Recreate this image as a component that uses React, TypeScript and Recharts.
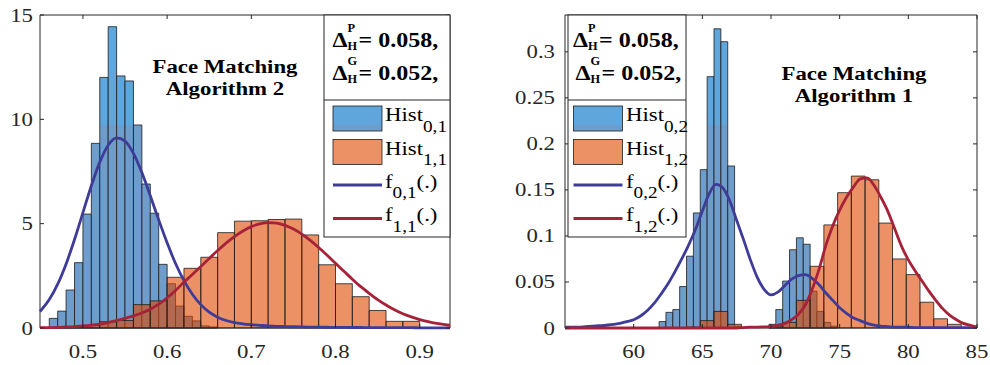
import { ComposedChart, Line, XAxis, YAxis, ReferenceArea } from 'recharts';

const FONT = '"Liberation Serif", "Times New Roman", Times, serif';
const INK = '#262626';
const BLUE_TOP = '#5ea6dc';
const BLUE_LOW = '#6e9ccb';
const ORANGE = '#df4800';
const ORANGE_ALPHA = 0.6;
const LINE0 = '#3f3c99';
const LINE1 = '#a52238';
const EDGE = '#1c1c1c';
// glyphs are drawn a bit wider than tall
const STRETCH = 1.2;

// ---- panel 1: Face Matching Algorithm 2 ----
const leftXTicks = [0.5, 0.6, 0.7, 0.8, 0.9];
const leftYTicks = [0, 5, 10, 15];

const hist01Edges = [0.46, 0.47, 0.48, 0.49, 0.5, 0.51, 0.52, 0.53, 0.54, 0.55, 0.56, 0.57, 0.58, 0.59, 0.6, 0.61, 0.62, 0.63, 0.64, 0.65, 0.66];
const hist01Values = [0.46, 0.81, 1.82, 3.13, 5.46, 8.85, 12.01, 14.44, 12.08, 11.84, 9.73, 6.9, 5.5, 3.05, 2.12, 1.05, 0.56, 0.34, 0.1, 0.05];

const hist11Edges = [0.46, 0.48, 0.5, 0.52, 0.54, 0.56, 0.58, 0.6, 0.62, 0.64, 0.66, 0.68, 0.7, 0.72, 0.74, 0.76, 0.78, 0.8, 0.82, 0.84, 0.86, 0.88, 0.9];
const hist11Values = [0.03, 0.05, 0.12, 0.3, 0.36, 1.12, 1.3, 2.43, 2.86, 3.39, 4.57, 5.12, 5.14, 5.2, 5.22, 4.46, 3.03, 2.12, 1.5, 0.84, 0.32, 0.32];

const leftCurveX = [
  0.449, 0.46, 0.47, 0.48, 0.49, 0.5, 0.51, 0.52, 0.53, 0.54,
  0.55, 0.56, 0.57, 0.58, 0.59, 0.6, 0.61, 0.62, 0.63, 0.64,
  0.65, 0.66, 0.67, 0.68, 0.69, 0.7, 0.71, 0.72, 0.73, 0.74,
  0.75, 0.76, 0.77, 0.78, 0.79, 0.8, 0.81, 0.82, 0.83, 0.84,
  0.85, 0.86, 0.87, 0.88, 0.89, 0.9, 0.91, 0.92, 0.93, 0.936,
];
const f01 = [
  0.79, 1.36, 2.1, 3.07, 4.24, 5.53, 6.82, 7.95, 8.76, 9.11,
  8.96, 8.37, 7.45, 6.34, 5.18, 4.08, 3.09, 2.27, 1.62, 1.12,
  0.76, 0.52, 0.36, 0.26, 0.2, 0.16, 0.13, 0.1, 0.08, 0.07,
  0.06, 0.05, 0.045, 0.04, 0.035, 0.03, 0.03, 0.025, 0.025, 0.02,
  0.02, 0.02, 0.015, 0.015, 0.015, 0.01, 0.01, 0.01, 0.01, 0.01,
];
const f11 = [
  0.013, 0.02, 0.03, 0.05, 0.07, 0.1, 0.14, 0.19, 0.26, 0.36,
  0.46, 0.58, 0.72, 0.9, 1.14, 1.45, 1.8, 2.2, 2.56, 2.95,
  3.33, 3.71, 4.07, 4.38, 4.65, 4.86, 4.99, 5.05, 5.03, 4.92,
  4.74, 4.5, 4.2, 3.86, 3.49, 3.1, 2.72, 2.34, 1.98, 1.66,
  1.36, 1.1, 0.87, 0.68, 0.53, 0.4, 0.3, 0.22, 0.16, 0.13,
];

// ---- panel 2: Face Matching Algorithm 1 ----
const rightXTicks = [60, 65, 70, 75, 80, 85];
const rightYTicks = [0, 0.05, 0.1, 0.15, 0.2, 0.25, 0.3];

const hist02Edges = [
  61.85, 62.35, 62.85, 63.35, 63.85, 64.35, 64.85, 65.35, 65.85, 66.35, 66.85, 67.35, 67.85,
  68.35, 68.85, 69.35, 69.85, 70.35, 70.85, 71.35, 71.85, 72.35, 72.85, 73.35, 73.85, 74.35, 74.85,
];
const hist02Values = [
  0.007, 0.017, 0.02, 0.045, 0.078, 0.125, 0.172, 0.273, 0.325, 0.311, 0.176, 0.002, 0,
  0, 0, 0, 0.004, 0.02, 0.051, 0.085, 0.098, 0.091, 0.04, 0.018, 0.006, 0.002,
];

const hist12Edges = [63.85, 64.85, 65.85, 66.85, 67.85, 68.85, 69.85, 70.85, 71.85, 72.85, 73.85, 74.85, 75.85, 76.85, 77.85, 78.85, 79.85, 80.85, 81.85, 82.85, 83.85];
const hist12Values = [0.001, 0.008, 0.018, 0.004, 0, 0, 0.002, 0.006, 0.03, 0.067, 0.112, 0.147, 0.165, 0.161, 0.114, 0.075, 0.058, 0.028, 0.01, 0.004];

const rightCurveX = [
  55, 55.5, 56, 56.5, 57, 57.5, 58, 58.5, 59, 59.5,
  60, 60.5, 61, 61.5, 62, 62.5, 63, 63.5, 64, 64.5,
  65, 65.5, 66, 66.5, 67, 67.5, 68, 68.5, 69, 69.5,
  70, 70.5, 71, 71.5, 72, 72.5, 73, 73.5, 74, 74.5,
  75, 75.5, 76, 76.5, 77, 77.5, 78, 78.5, 79, 79.5,
  80, 80.5, 81, 81.5, 82, 82.5, 83, 83.5, 84, 84.5, 85,
];
const f02 = [
  0.001, 0.001, 0.001, 0.0015, 0.002, 0.0025, 0.003, 0.004, 0.005, 0.007,
  0.009, 0.013, 0.019, 0.027, 0.037, 0.048, 0.061, 0.075, 0.09, 0.107,
  0.127, 0.146, 0.156, 0.152, 0.138, 0.117, 0.096, 0.074, 0.055, 0.042,
  0.036, 0.039, 0.046, 0.053, 0.057, 0.058, 0.054, 0.047, 0.038, 0.03,
  0.022, 0.016, 0.011, 0.008, 0.005, 0.003, 0.002, 0.0015, 0.001, 0.001,
  0.0008, 0.0005, 0.0005, 0.0005, 0.0005, 0.0005, 0.0005, 0.0005, 0.0005, 0.0005, 0.0005,
];
const f12 = [
  0, 0, 0, 0, 0, 0, 0, 0, 0, 0,
  0, 0, 0, 0, 0, 0, 0, 0, 0, 0,
  0, 0, 0, 0, 0, 0, 0.0005, 0.001, 0.001, 0.0012,
  0.0015, 0.003, 0.005, 0.009, 0.015, 0.025, 0.042, 0.064, 0.09, 0.111,
  0.128, 0.142, 0.153, 0.162, 0.163, 0.155, 0.142, 0.127, 0.108, 0.089,
  0.074, 0.062, 0.051, 0.04, 0.03, 0.021, 0.014, 0.009, 0.005, 0.003, 0.001,
];

function Txt({ x, y, size, bold, anchor = 'start', fill = '#000', stretch = STRETCH, children }: any) {
  return (
    <text
      transform={`translate(${x} ${y}) scale(${stretch} 1)`}
      fontFamily={FONT}
      fontSize={size}
      fontWeight={bold ? 700 : 400}
      textAnchor={anchor}
      fill={fill}
    >
      {children}
    </text>
  );
}

function BlueGradient({ id }: { id: string }) {
  const cut = 125 / 365;
  return (
    <linearGradient id={id} gradientUnits="userSpaceOnUse" x1="0" y1="0" x2="0" y2="365">
      <stop offset="0" stopColor={BLUE_TOP} />
      <stop offset={cut} stopColor={BLUE_TOP} />
      <stop offset={cut} stopColor={BLUE_LOW} />
      <stop offset="1" stopColor={BLUE_LOW} />
    </linearGradient>
  );
}

// inward tick marks on bottom and top edges, label below
const bottomTick = (top: number) => (p: any) => {
  const { x, y, payload } = p;
  return (
    <g>
      <line x1={x} x2={x} y1={y} y2={y - 4} stroke={INK} />
      <line x1={x} x2={x} y1={top} y2={top + 4} stroke={INK} />
      <Txt x={x} y={y + 30} size={19} anchor="middle" fill={INK}>
        {String(payload.value)}
      </Txt>
    </g>
  );
};

// inward tick marks on left and right edges, label to the left
const leftTick = (right: number, gap: number) => (p: any) => {
  const { x, y, payload } = p;
  return (
    <g>
      <line x1={x} x2={x + 4} y1={y} y2={y} stroke={INK} />
      <line x1={right} x2={right - 4} y1={y} y2={y} stroke={INK} />
      <Txt x={x - gap} y={y + 6.5} size={19} anchor="end" fill={INK}>
        {String(payload.value)}
      </Txt>
    </g>
  );
};

function toBins(edges: number[], values: number[]) {
  return values
    .map((h, i) => ({ x1: edges[i], x2: edges[i + 1], h }))
    .filter((b) => b.h > 0);
}

function Panel({
  left, width, yAxisWidth, marginRight, xDomain, yDomain, xTicks, yTicks,
  curveX, f0, f1, blueEdges, blueValues, orangeEdges, orangeValues, labelGap, gradId,
}: any) {
  const data = curveX.map((x: number, i: number) => ({ x, f0: f0[i], f1: f1[i] }));
  const top = 15;
  const plotRight = width - marginRight;
  return (
    <div style={{ position: 'absolute', left, top: 0 }}>
      <ComposedChart
        width={width}
        height={365}
        data={data}
        margin={{ top, right: marginRight, bottom: 0, left: 0 }}
      >
        <defs>
          <BlueGradient id={gradId} />
        </defs>
        <XAxis
          dataKey="x"
          type="number"
          domain={xDomain}
          ticks={xTicks}
          interval={0}
          height={37}
          axisLine={false}
          tickLine={false}
          tickSize={0}
          tickMargin={0}
          tick={bottomTick(top)}
        />
        <YAxis
          type="number"
          domain={yDomain}
          ticks={yTicks}
          interval={0}
          width={yAxisWidth}
          axisLine={false}
          tickLine={false}
          tickSize={0}
          tickMargin={0}
          tick={leftTick(plotRight, labelGap)}
        />
        {toBins(blueEdges, blueValues).map((b, i) => (
          <ReferenceArea
            key={`b${i}`}
            x1={b.x1}
            x2={b.x2}
            y1={0}
            y2={b.h}
            fill={`url(#${gradId})`}
            fillOpacity={1}
            stroke={EDGE}
            strokeWidth={0.8}
          />
        ))}
        {toBins(orangeEdges, orangeValues).map((b, i) => (
          <ReferenceArea
            key={`o${i}`}
            x1={b.x1}
            x2={b.x2}
            y1={0}
            y2={b.h}
            fill={ORANGE}
            fillOpacity={ORANGE_ALPHA}
            stroke={EDGE}
            strokeWidth={0.8}
          />
        ))}
        <ReferenceArea
          x1={xDomain[0]}
          x2={xDomain[1]}
          y1={yDomain[0]}
          y2={yDomain[1]}
          fill="none"
          stroke={INK}
          strokeWidth={1}
        />
        <Line
          dataKey="f0"
          type="monotone"
          stroke={LINE0}
          strokeWidth={2.8}
          dot={false}
          isAnimationActive={false}
        />
        <Line
          dataKey="f1"
          type="monotone"
          stroke={LINE1}
          strokeWidth={2.8}
          dot={false}
          isAnimationActive={false}
        />
      </ComposedChart>
    </div>
  );
}

// Δ with a stacked superscript and subscript H, then "= value,"
function DeltaRow({ x, y, sup, value }: any) {
  return (
    <g>
      <Txt x={x} y={y} size={20} bold>Δ</Txt>
      <Txt x={x + 15} y={y - 15} size={13} bold stretch={0.95}>{sup}</Txt>
      <Txt x={x + 15} y={y + 3} size={13} bold stretch={0.95}>H</Txt>
      <Txt x={x + 26} y={y} size={20} bold>{`= ${value},`}</Txt>
    </g>
  );
}

function LegendBox({ x, w, patchX, textX, sub0, sub1, shift }: any) {
  const rows = [118.5, 152, 185, 218.5];
  const pw = 49;
  return (
    <g>
      <rect x={x} y={15} width={w} height={222} fill="#fff" stroke={INK} strokeWidth={1} />
      <line x1={x} x2={x + w} y1={100} y2={100} stroke={INK} strokeWidth={1} />
      <DeltaRow x={patchX - 0.5} y={47} sup="P" value="0.058" />
      <DeltaRow x={patchX - 0.5 + shift} y={80} sup="G" value="0.052" />

      <rect x={patchX} y={rows[0] - 12.5} width={pw} height={25} fill="url(#legendBlue)" stroke={EDGE} strokeWidth={0.8} />
      <rect x={patchX} y={rows[1] - 12.5} width={pw} height={25} fill={ORANGE} fillOpacity={ORANGE_ALPHA} stroke={EDGE} strokeWidth={0.8} />
      <line x1={patchX} x2={patchX + pw} y1={rows[2]} y2={rows[2]} stroke={LINE0} strokeWidth={3} />
      <line x1={patchX} x2={patchX + pw} y1={rows[3]} y2={rows[3]} stroke={LINE1} strokeWidth={3} />

      <Txt x={textX} y={rows[0] + 2.5} size={19}>
        Hist<tspan dy={10.5} fontSize={16}>{sub0}</tspan>
      </Txt>
      <Txt x={textX} y={rows[1] + 2.5} size={19}>
        Hist<tspan dy={10.5} fontSize={16}>{sub1}</tspan>
      </Txt>
      <Txt x={textX} y={rows[2] + 2.5} size={19}>
        f<tspan dy={10.5} fontSize={16}>{sub0}</tspan>
        <tspan dy={-10.5}>(.)</tspan>
      </Txt>
      <Txt x={textX} y={rows[3] + 2.5} size={19}>
        f<tspan dy={10.5} fontSize={16}>{sub1}</tspan>
        <tspan dy={-10.5}>(.)</tspan>
      </Txt>
    </g>
  );
}

export default function App() {
  return (
    <div style={{ position: 'absolute', left: 0, top: 0, width: 990, height: 365, background: '#fff' }}>
      <Panel
        left={0}
        width={460}
        yAxisWidth={40}
        marginRight={10}
        xDomain={[0.449, 0.936]}
        yDomain={[0, 15]}
        xTicks={leftXTicks}
        yTicks={leftYTicks}
        curveX={leftCurveX}
        f0={f01}
        f1={f11}
        blueEdges={hist01Edges}
        blueValues={hist01Values}
        orangeEdges={hist11Edges}
        orangeValues={hist11Values}
        labelGap={7}
        gradId="blueFillA"
      />
      <Panel
        left={500}
        width={490}
        yAxisWidth={65}
        marginRight={13}
        xDomain={[55, 85]}
        yDomain={[0, 0.34]}
        xTicks={rightXTicks}
        yTicks={rightYTicks}
        curveX={rightCurveX}
        f0={f02}
        f1={f12}
        blueEdges={hist02Edges}
        blueValues={hist02Values}
        orangeEdges={hist12Edges}
        orangeValues={hist12Values}
        labelGap={10}
        gradId="blueFillB"
      />
      <svg
        width={990}
        height={365}
        style={{ position: 'absolute', left: 0, top: 0, pointerEvents: 'none' }}
      >
        <defs>
          <BlueGradient id="legendBlue" />
        </defs>
        <Txt x={225} y={72.5} size={19} bold anchor="middle">Face Matching</Txt>
        <Txt x={225} y={95} size={19} bold anchor="middle">Algorithm 2</Txt>
        <Txt x={854} y={79.5} size={19} bold anchor="middle">Face Matching</Txt>
        <Txt x={854} y={102} size={19} bold anchor="middle">Algorithm 1</Txt>
        <LegendBox x={324} w={126} patchX={333} textX={385} sub0="0,1" sub1="1,1" shift={0} />
        <LegendBox x={568} w={118} patchX={573.5} textX={626} sub0="0,2" sub1="1,2" shift={2.5} />
      </svg>
    </div>
  );
}
